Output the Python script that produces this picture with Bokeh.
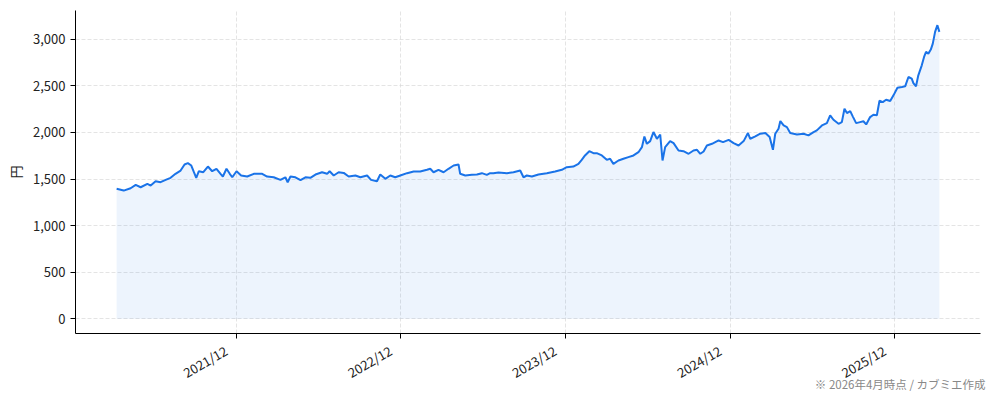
import math
from datetime import datetime, timedelta
import pandas as pd
from bokeh.plotting import figure
from bokeh.models import (Range1d, FixedTicker, DatetimeTickFormatter,
                          NumeralTickFormatter, ColumnDataSource, Title)
from bokeh.embed import file_html
from bokeh.resources import INLINE

years = [
    2021.188, 2021.231, 2021.273, 2021.304, 2021.334, 2021.375, 2021.395, 2021.425,
    2021.455, 2021.486, 2021.516, 2021.546, 2021.577, 2021.601, 2021.621, 2021.642,
    2021.658, 2021.672, 2021.688, 2021.715, 2021.743, 2021.769, 2021.795, 2021.820,
    2021.834, 2021.856, 2021.876, 2021.891, 2021.917, 2021.945, 2021.982, 2022.022,
    2022.073, 2022.103, 2022.143, 2022.184, 2022.214, 2022.228, 2022.245, 2022.275,
    2022.306, 2022.336, 2022.366, 2022.397, 2022.437, 2022.468, 2022.483, 2022.508,
    2022.538, 2022.569, 2022.599, 2022.640, 2022.670, 2022.711, 2022.735, 2022.771,
    2022.791, 2022.822, 2022.852, 2022.882, 2022.913, 2022.954, 2022.994, 2023.034,
    2023.075, 2023.095, 2023.115, 2023.145, 2023.176, 2023.206, 2023.237, 2023.267,
    2023.277, 2023.308, 2023.348, 2023.379, 2023.409, 2023.439, 2023.459, 2023.479,
    2023.510, 2023.561, 2023.601, 2023.642, 2023.662, 2023.682, 2023.713, 2023.753,
    2023.804, 2023.854, 2023.895, 2023.925, 2023.965, 2023.996, 2024.016, 2024.036,
    2024.062, 2024.087, 2024.107, 2024.138, 2024.168, 2024.188, 2024.208, 2024.239,
    2024.269, 2024.299, 2024.330, 2024.360, 2024.381, 2024.396, 2024.411, 2024.431,
    2024.451, 2024.472, 2024.492, 2024.506, 2024.522, 2024.552, 2024.573, 2024.603,
    2024.633, 2024.664, 2024.694, 2024.715, 2024.735, 2024.755, 2024.775, 2024.806,
    2024.846, 2024.873, 2024.907, 2024.937, 2024.967, 2024.998, 2025.024, 2025.038,
    2025.069, 2025.099, 2025.130, 2025.156, 2025.176, 2025.190, 2025.210, 2025.221,
    2025.241, 2025.261, 2025.281, 2025.322, 2025.362, 2025.392, 2025.423, 2025.443,
    2025.474, 2025.504, 2025.524, 2025.544, 2025.575, 2025.595, 2025.611, 2025.626,
    2025.646, 2025.662, 2025.682, 2025.706, 2025.726, 2025.743, 2025.767, 2025.787,
    2025.808, 2025.824, 2025.844, 2025.864, 2025.889, 2025.909, 2025.933, 2025.960,
    2025.980, 2026.000, 2026.020, 2026.030, 2026.046, 2026.060, 2026.081, 2026.095,
    2026.107, 2026.121, 2026.136, 2026.148, 2026.162, 2026.176, 2026.188,
]

# Share price in yen
prices = [
    1395, 1376, 1401, 1437, 1412, 1448, 1430, 1476,
    1466, 1491, 1513, 1556, 1591, 1656, 1670, 1645,
    1573, 1513, 1584, 1573, 1634, 1584, 1610, 1556,
    1527, 1610, 1556, 1519, 1584, 1538, 1527, 1556,
    1556, 1527, 1519, 1491, 1519, 1466, 1527, 1519,
    1488, 1519, 1513, 1548, 1573, 1556, 1584, 1538,
    1573, 1566, 1527, 1538, 1519, 1538, 1491, 1476,
    1548, 1502, 1538, 1519, 1538, 1563, 1581, 1581,
    1599, 1610, 1573, 1599, 1573, 1610, 1645, 1656,
    1556, 1538, 1545, 1548, 1563, 1545, 1563, 1563,
    1570, 1563, 1573, 1591, 1519, 1538, 1527, 1548,
    1563, 1581, 1599, 1627, 1634, 1663, 1706, 1753,
    1799, 1778, 1778, 1753, 1706, 1717, 1663, 1699,
    1717, 1735, 1753, 1788, 1842, 1957, 1878, 1907,
    2004, 1932, 1978, 1699, 1842, 1907, 1885, 1806,
    1799, 1771, 1806, 1814, 1771, 1796, 1860, 1878,
    1914, 1896, 1921, 1885, 1860, 1907, 1993, 1932,
    1957, 1986, 1993, 1950, 1814, 1986, 2040, 2122,
    2075, 2057, 1993, 1978, 1986, 1968, 2004, 2022,
    2075, 2100, 2183, 2136, 2093, 2111, 2254, 2208,
    2229, 2170, 2100, 2111, 2120, 2086, 2165, 2190,
    2185, 2340, 2326, 2351, 2337, 2398, 2480, 2487,
    2495, 2595, 2577, 2530, 2495, 2613, 2720, 2810,
    2864, 2846, 2889, 2953, 3079, 3151, 3079,
]

tick_labels_years = [2021, 2022, 2023, 2024, 2025]
y_ticks = [0, 500, 1000, 1500, 2000, 2500, 3000]
y_label = "円"
note_text = "※ 2026年4月時点 / カブミエ作成"


def year_to_dt(y):
    yi = int(math.floor(y))
    start = datetime(yi, 1, 1)
    days = (datetime(yi + 1, 1, 1) - start).days
    return start + timedelta(days=(y - yi) * days)


dates = [year_to_dt(y) for y in years]
src = ColumnDataSource(dict(date=dates, price=prices, zero=[0] * len(prices)))

dmin, dmax = min(dates), max(dates)
span = dmax - dmin
pmax = max(prices)

FONT = "Noto Sans CJK JP"

p = figure(width=994, height=401, x_axis_type="datetime",
           output_backend="svg", toolbar_location=None,
           x_range=Range1d(dmin - span * 0.05, dmax + span * 0.05),
           y_range=Range1d(-0.05 * pmax, pmax * 1.05),
           min_border_left=75, min_border_right=14,
           min_border_top=10, min_border_bottom=68)
p.outline_line_color = None
p.background_fill_color = "white"

p.varea(x="date", y1="zero", y2="price", source=src,
        fill_color="#1a73e8", fill_alpha=0.08)
p.line(x="date", y="price", source=src, line_color="#1a73e8", line_width=2)

tick_ms = [datetime(y, 12, 1).timestamp() * 1000 for y in tick_labels_years]
p.xaxis.ticker = FixedTicker(ticks=tick_ms)
fmt = "%Y/%m"
p.xaxis.formatter = DatetimeTickFormatter(
    milliseconds=fmt, seconds=fmt, minsec=fmt, minutes=fmt, hourmin=fmt,
    hours=fmt, days=fmt, months=fmt, years=fmt)
p.xaxis.major_label_overrides = {
    t: "%d/12\u00a0\u00a0\u00a0\u00a0" % y for t, y in zip(tick_ms, tick_labels_years)}
p.xaxis.major_label_orientation = math.pi / 6

p.yaxis.ticker = FixedTicker(ticks=y_ticks)
p.yaxis.formatter = NumeralTickFormatter(format="0,0")
p.yaxis.axis_label = y_label

for ax in (p.xaxis, p.yaxis):
    ax.axis_line_color = "black"
    ax.axis_line_width = 1
    ax.major_tick_line_color = "black"
    ax.major_tick_in = 0
    ax.major_tick_out = 5
    ax.minor_tick_line_color = None
    ax.major_label_text_font = FONT
    ax.major_label_text_font_size = "13px"
    ax.major_label_text_color = "#222222"
    ax.axis_label_text_font = FONT
    ax.axis_label_text_font_size = "13px"
    ax.axis_label_text_font_style = "normal"
    ax.axis_label_text_color = "#222222"

for g in (p.xgrid, p.ygrid):
    g.grid_line_color = "#d9d9d9"
    g.grid_line_dash = "4 2"
    g.grid_line_alpha = 0.7

# tighten the x axis panel so that the source note sits just under the tick labels
p.xaxis.axis_label = " "
p.xaxis.axis_label_text_font_size = "1px"
p.xaxis.axis_label_standoff = -24

note = Title(text=note_text, align="right", offset=-5, standoff=0,
             text_font=FONT, text_font_size="11.5px", text_font_style="normal",
             text_color="#888888")
p.add_layout(note, "below")

open("out.html", "w").write(file_html(p, INLINE))
